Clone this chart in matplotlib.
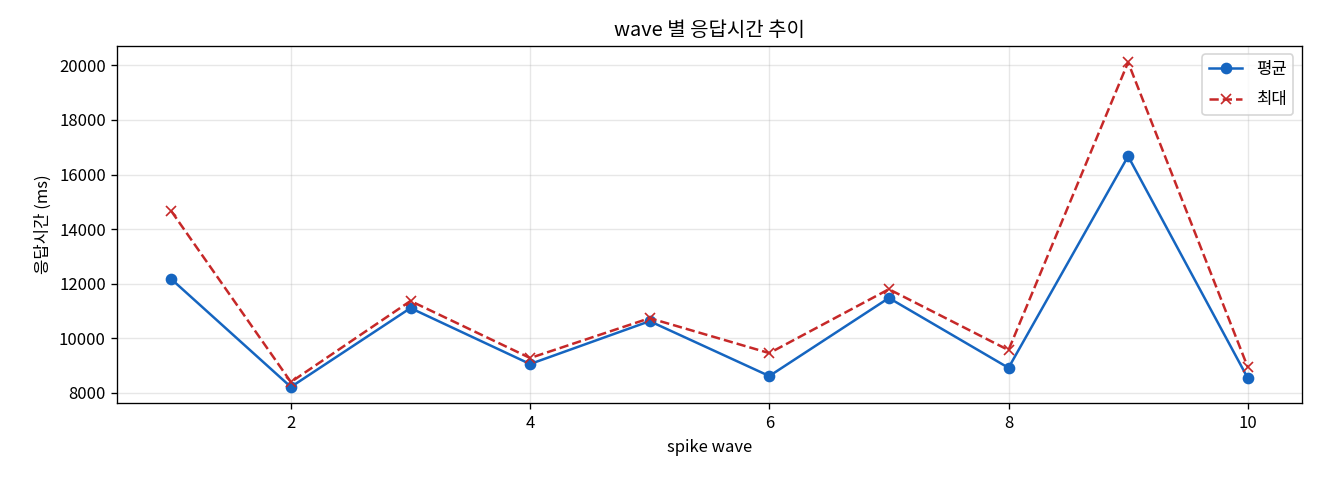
import matplotlib
matplotlib.use("Agg")
import matplotlib.pyplot as plt

plt.rcParams['font.family'] = ['Noto Sans CJK KR', 'DejaVu Sans']
plt.rcParams['axes.unicode_minus'] = False

waves = [1, 2, 3, 4, 5, 6, 7, 8, 9, 10]
avg_ms = [12170, 8220, 11110, 9060, 10630, 8620, 11480, 8920, 16670, 8550]
max_ms = [14660, 8400, 11370, 9280, 10740, 9460, 11800, 9570, 20110, 8950]

fig, ax = plt.subplots(figsize=(11, 4), dpi=120)
ax.plot(waves, avg_ms, marker='o', color='#1565C0', label='평균', markersize=6)
ax.plot(waves, max_ms, marker='x', linestyle='--', color='#C62828', label='최대', markersize=6)
ax.set_title('wave 별 응답시간 추이')
ax.set_xlabel('spike wave')
ax.set_ylabel('응답시간 (ms)')
ax.grid(True, alpha=0.3)
ax.legend(labelspacing=0.8)
fig.subplots_adjust(left=0.089, right=0.986, top=0.904, bottom=0.16)
fig.savefig('out.png')
